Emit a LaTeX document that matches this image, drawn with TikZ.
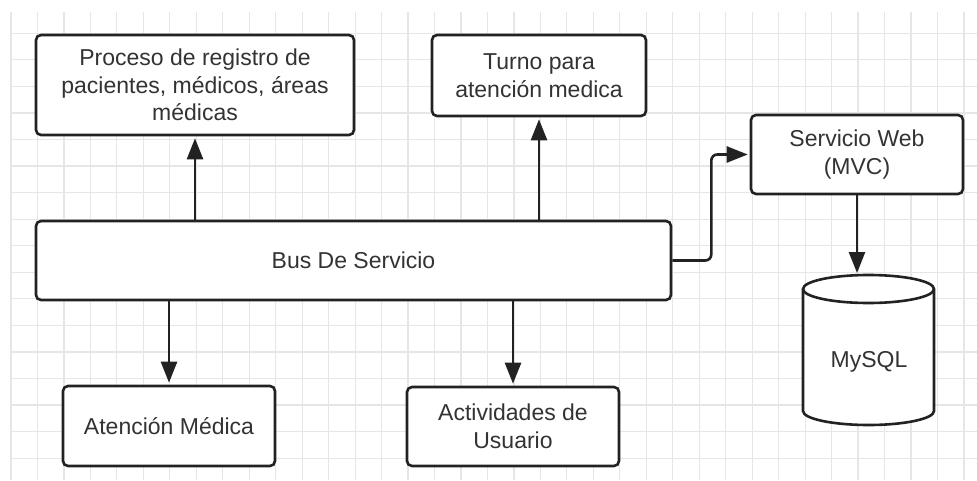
\documentclass[tikz,border=0pt]{standalone}
\usepackage{fontspec}
\setmainfont{Liberation Sans}
\usetikzlibrary{arrows.meta}
\definecolor{gridc}{HTML}{E6E6E6}
\definecolor{linec}{HTML}{222222}
\definecolor{textc}{HTML}{333333}
\begin{document}
\begin{tikzpicture}[x=1pt,y=1pt,
  box/.style={draw=linec, line width=2.6pt, rounded corners=5pt, fill=white, text=textc,
    align=center, inner sep=0pt, font=\fontsize{23}{27.5}\selectfont},
  lbl/.style={text=textc, inner sep=0pt, font=\fontsize{23}{27.5}\selectfont},
  arr/.style={draw=linec, line width=2.6pt, -{Triangle[length=21pt,width=16pt]}, shorten >=2pt},
  gridline/.style={draw=gridc, line width=1.2pt}]
\useasboundingbox (0,0) rectangle (977,480);
\fill[white] (0,0) rectangle (977,480);
% grid
\foreach \k in {0,...,36} \draw[gridline] ({11+26.47*\k},0) -- ({11+26.47*\k},468);
\foreach \k in {0,...,16} \draw[gridline] (11,{480-33.3-26.55*\k}) -- (977,{480-33.3-26.55*\k});
% nodes
\node[box, minimum width=318pt, minimum height=100pt] (p1) at (195,395)
  {Proceso de registro de\\pacientes, médicos, áreas\\médicas};
\node[box, minimum width=214pt, minimum height=81pt] (p2) at (539,404.5)
  {Turno para\\atención medica};
\node[box, minimum width=212pt, minimum height=79pt] (web) at (857,325.5)
  {Servicio Web\\(MVC)};
\node[box, minimum width=635pt, minimum height=79pt] (bus) at (353.5,219.5)
  {Bus De Servicio};
\node[box, minimum width=212pt, minimum height=80pt] (atn) at (169,54)
  {Atención Médica};
\node[box, minimum width=212pt, minimum height=79pt] (act) at (513,53.5)
  {Actividades de\\Usuario};
% cylinder
\filldraw[fill=white, draw=linec, line width=2.6pt]
  (803,191) -- (803,69) arc[start angle=180, end angle=360, x radius=65.5, y radius=14]
  -- (934,191) arc[start angle=0, end angle=180, x radius=65.5, y radius=14] -- cycle;
\draw[draw=linec, line width=2.6pt] (803,191) arc[start angle=180, end angle=360, x radius=65.5, y radius=14];
\coordinate (cyltop) at (868.5,205);
\node[lbl] (db) at (869,118) {MySQL};
% connectors
\draw[arr] (bus.north -| p1.south) -- (p1.south);
\draw[arr] (bus.north -| p2.south) -- (p2.south);
\draw[arr] (bus.south -| atn.north) -- (atn.north);
\draw[arr] (bus.south -| act.north) -- (act.north);
\draw[arr, rounded corners=6pt] (bus.east) -- ++(39,0) |- (web.west);
\draw[arr] (web.south) -- (web.south |- cyltop);
\end{tikzpicture}
\end{document}
